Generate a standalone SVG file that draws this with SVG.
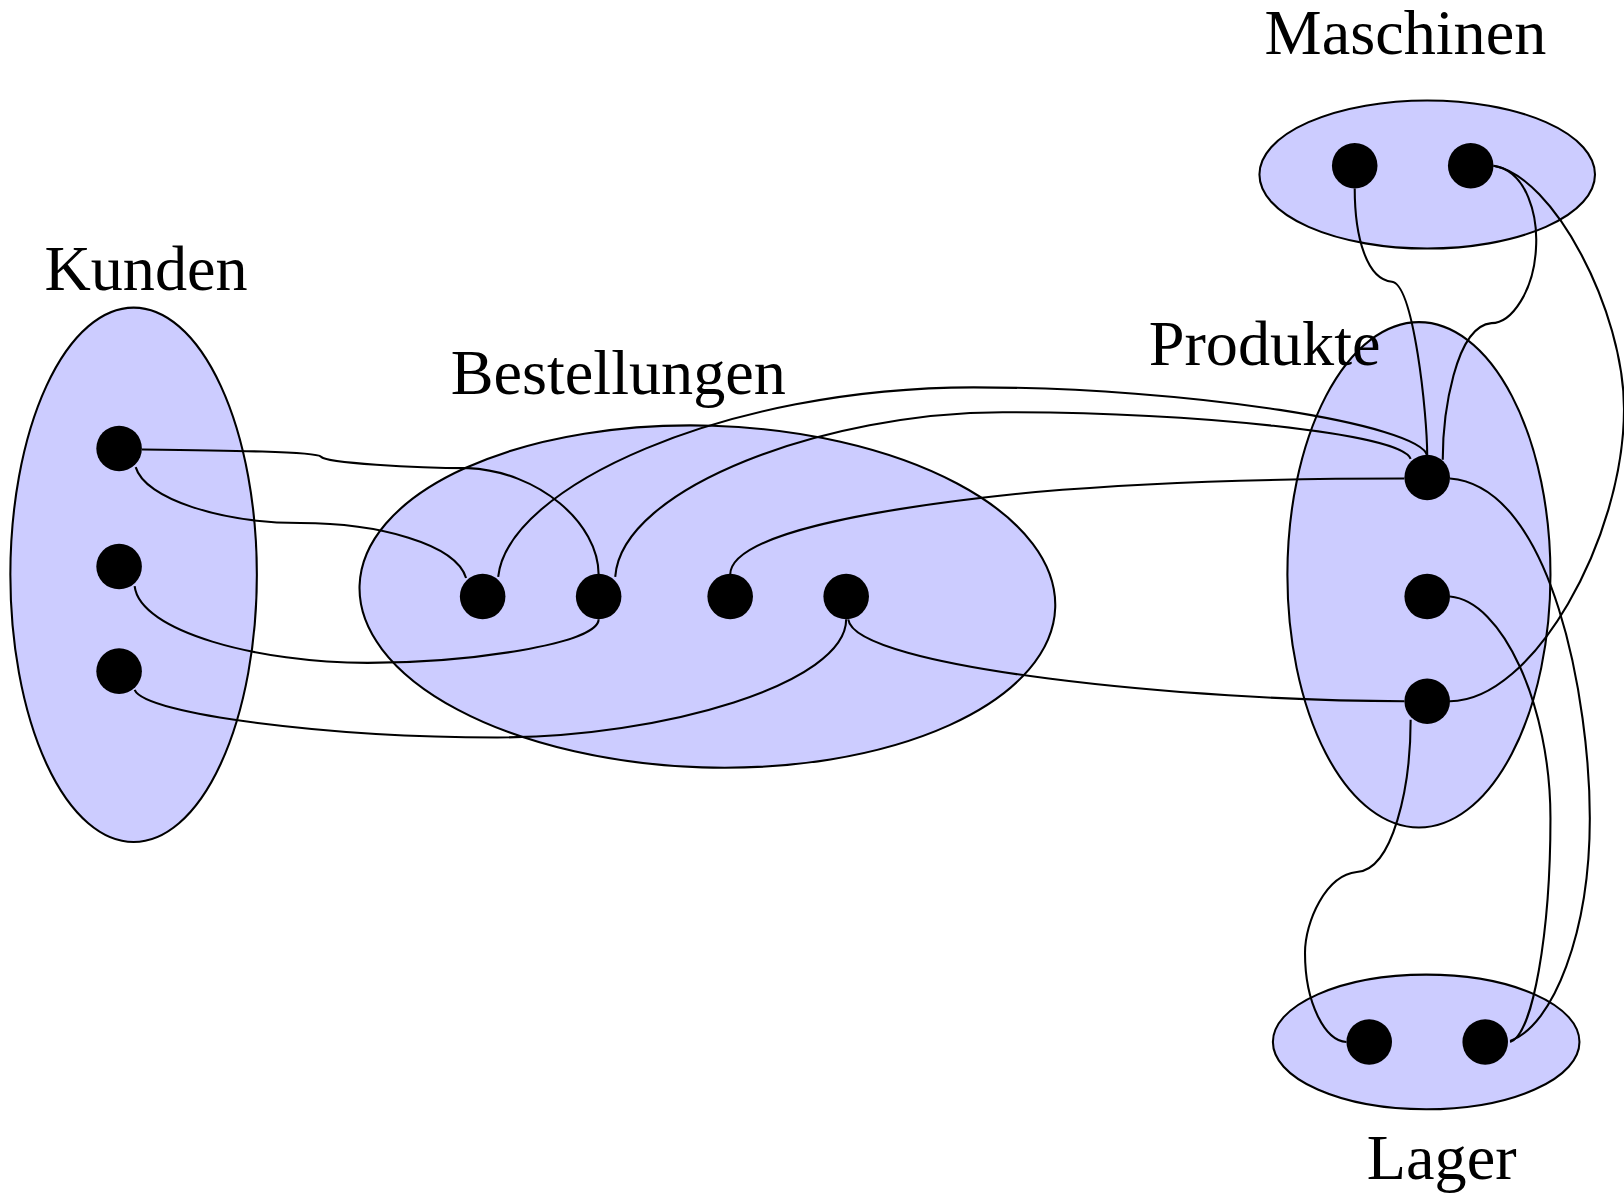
<svg xmlns="http://www.w3.org/2000/svg" width="1624" height="1194" viewBox="0 0 1624 1194">
<style>
.set{fill:#ccccff;stroke:#000;stroke-width:2}
.dot{fill:#000;stroke:none}
.edge{fill:none;stroke:#000;stroke-width:2}
.lbl{font-family:"Liberation Serif","Times New Roman",serif;font-size:62px;fill:#000;text-anchor:middle}
</style>
<rect width="1624" height="1194" fill="#fff"/>
<g transform="scale(1.035714)">
<g id="kunden">
<ellipse class="set" cx="129" cy="555" rx="119" ry="258"/>
<text class="lbl" x="141" y="280">Kunden</text>
</g>
<g id="bestellungen">
<ellipse class="set" cx="683" cy="576" rx="336" ry="165" transform="rotate(1.8 683 576)"/>
<text class="lbl" x="597" y="380">Bestellungen</text>
</g>
<g id="maschinen">
<ellipse class="set" cx="1378" cy="168.5" rx="162" ry="71.5"/>
<text class="lbl" x="1357" y="52">Maschinen</text>
</g>
<g id="produkte">
<ellipse class="set" cx="1370" cy="555" rx="127" ry="244"/>
</g>
<g id="lager">
<ellipse class="set" cx="1377" cy="1006" rx="148" ry="65"/>
<text class="lbl" x="1392" y="1138">Lager</text>
</g>
<g id="connectors">
<path class="edge" d="M137,434 C220,435 305,436 310,441 C315,447 400,452 452,452 C520,455 578,505 578,555"/>
<path class="edge" d="M131,451 C140,482 215,505 290,505 C365,505 440,525 450,558"/>
<path class="edge" d="M130,566 C135,610 250,640 355,640 C450,640 578,622 578,598"/>
<path class="edge" d="M130,666 C140,690 320,712 480,712 C640,712 817,660 817,598"/>
<path class="edge" d="M481,557 C490,470 700,374 940,374 C1150,374 1372,410 1378,440"/>
<path class="edge" d="M594,557 C600,470 800,398 968,398 C1150,398 1352,418 1362,443"/>
<path class="edge" d="M705,555 C705,515 850,490 1000,475 C1150,462 1300,462 1356,462"/>
<path class="edge" d="M819,598 C825,645 1150,677 1356,677"/>
<path class="edge" d="M1308,182 C1308,230 1320,270 1344,272 C1365,275 1378,400 1378,440"/>
<path class="edge" d="M1442,160 C1475,165 1485,210 1483,240 C1481,280 1460,312 1440,312 C1405,315 1393,400 1393,444"/>
<path class="edge" d="M1442,160 C1500,170 1568,300 1568,395 C1568,520 1480,677 1400,677"/>
<path class="edge" d="M1400,462 C1500,470 1535,680 1535,790 C1535,900 1500,990 1458,1005"/>
<path class="edge" d="M1400,576 C1450,580 1497,680 1497,790 C1497,900 1480,1000 1458,1006"/>
<path class="edge" d="M1362,695 C1362,760 1345,840 1310,842 C1280,845 1260,890 1260,920 C1260,970 1280,1005 1300,1006"/>
</g>
<g id="produkte-label">
<text class="lbl" x="1221" y="352">Produkte</text>
</g>
<g id="dots">
<circle class="dot" cx="115" cy="433" r="22"/>
<circle class="dot" cx="115" cy="547" r="22"/>
<circle class="dot" cx="115" cy="648" r="22"/>
<circle class="dot" cx="466" cy="576" r="22"/>
<circle class="dot" cx="578" cy="576" r="22"/>
<circle class="dot" cx="705" cy="576" r="22"/>
<circle class="dot" cx="817" cy="576" r="22"/>
<circle class="dot" cx="1308" cy="160" r="22"/>
<circle class="dot" cx="1420" cy="160" r="22"/>
<circle class="dot" cx="1378" cy="461" r="22"/>
<circle class="dot" cx="1378" cy="576" r="22"/>
<circle class="dot" cx="1378" cy="677" r="22"/>
<circle class="dot" cx="1322" cy="1006" r="22"/>
<circle class="dot" cx="1434" cy="1006" r="22"/>
</g>
</g>
</svg>
